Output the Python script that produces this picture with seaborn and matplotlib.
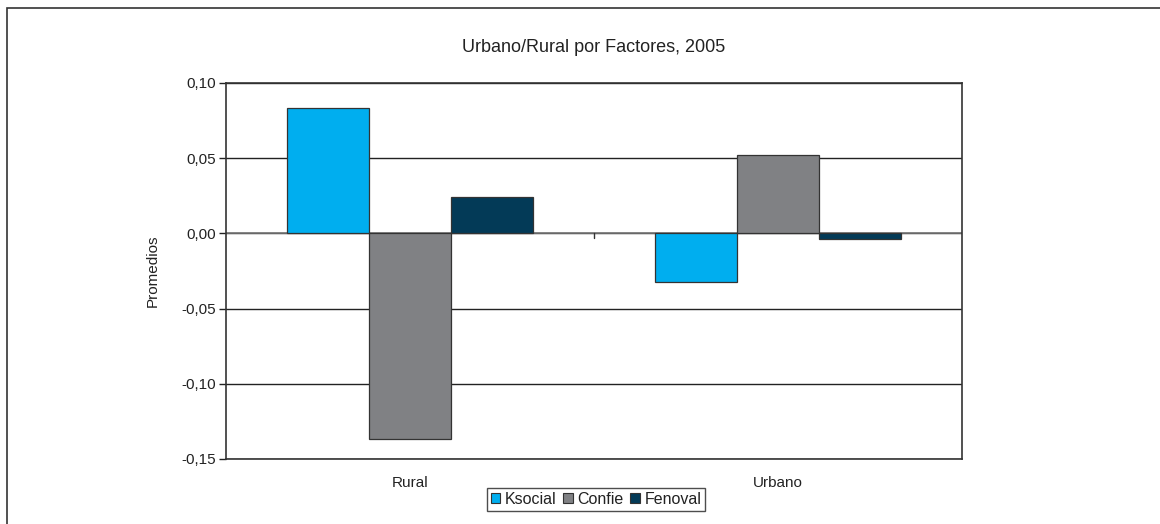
import pandas as pd
import numpy as np
import matplotlib
matplotlib.use('Agg')
import matplotlib.pyplot as plt
import seaborn as sns
from matplotlib.patches import Rectangle
from matplotlib.ticker import FuncFormatter

# data
zonas = ['Rural', 'Urbano']
factores = ['Ksocial', 'Confie', 'Fenoval']
ksocial = [0.0835, -0.032]
confie = [-0.137, 0.052]
fenoval = [0.0242, -0.0035]
colores = ['#00AEEF', '#808184', '#033A57']

df = pd.DataFrame({
    'Zona': zonas * 3,
    'Factor': np.repeat(factores, len(zonas)),
    'Promedio': ksocial + confie + fenoval,
})

sns.set_style('white')
plt.rcParams['font.family'] = ['Liberation Sans', 'DejaVu Sans']
plt.rcParams['text.color'] = '#222222'
plt.rcParams['axes.labelcolor'] = '#222222'
plt.rcParams['xtick.color'] = '#222222'
plt.rcParams['ytick.color'] = '#222222'

fig = plt.figure(figsize=(11.6, 5.24), dpi=100)
ax = fig.add_axes([226 / 1160, 1 - 459 / 524, (962 - 226) / 1160, (459 - 83) / 524])

# outer chart border
fig.patches.append(Rectangle((7 / 1160, -0.05), 1.2, 1 - 8 / 524 + 0.05,
                             transform=fig.transFigure, fill=False,
                             edgecolor='#333333', linewidth=1.2))

sns.barplot(data=df, x='Zona', y='Promedio', hue='Factor', hue_order=factores,
            palette=colores, saturation=1, width=0.67, gap=0, edgecolor='#333333',
            linewidth=0.9, ax=ax, legend=True, zorder=3)

ax.set_ylim(-0.15, 0.10)
ax.set_xlim(-0.5, 1.5)
ax.set_yticks([-0.15, -0.10, -0.05, 0.0, 0.05, 0.10])
ax.yaxis.set_major_formatter(FuncFormatter(lambda v, p: f'{v:.2f}'.replace('.', ',')))
ax.grid(axis='y', color='#222222', linewidth=1.0, zorder=0)
ax.set_axisbelow(True)
ax.axhline(0, color='#777777', linewidth=1.2, zorder=2)
ax.axvline(0.5, ymin=0.6 - 0.012, ymax=0.6, color='#333333', linewidth=1)

for s in ax.spines.values():
    s.set_color('#333333')
    s.set_linewidth(1.2)

ax.tick_params(axis='y', length=5, width=1, labelsize=11, left=True, pad=2)
ax.tick_params(axis='x', length=0, labelsize=11, pad=12)
ax.set_xlabel('')
ax.set_ylabel('Promedios', fontsize=11, labelpad=16)
fig.text(594 / 1160, 1 - 48 / 524, 'Urbano/Rural por Factores, 2005',
         ha='center', va='center', fontsize=13)

ax.get_legend().remove()
handles = [Rectangle((0, 0), 1, 1, facecolor=c, edgecolor='#333333', linewidth=0.8)
           for c in colores]
leg = fig.legend(handles, factores, loc='center', ncol=3,
                 bbox_to_anchor=(596 / 1160, 1 - 499.5 / 524),
                 fontsize=11.5, frameon=True, fancybox=False,
                 handlelength=0.6, handleheight=0.6, handletextpad=0.3,
                 columnspacing=0.4, borderpad=0.25, borderaxespad=0)
leg.get_frame().set_edgecolor('#222222')
leg.get_frame().set_linewidth(1)

fig.savefig('out.png', dpi=100)
